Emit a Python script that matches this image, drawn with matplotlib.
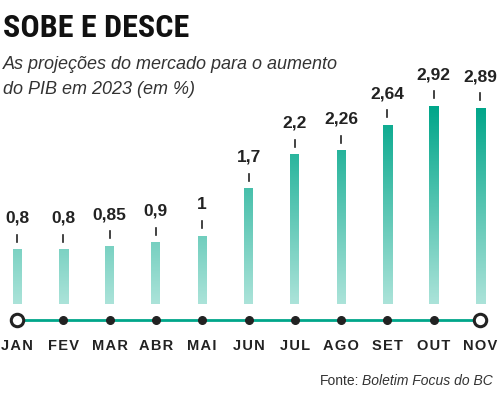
import matplotlib.pyplot as plt
import numpy as np
from matplotlib.colors import LinearSegmentedColormap

months = ['JAN', 'FEV', 'MAR', 'ABR', 'MAI', 'JUN', 'JUL', 'AGO', 'SET', 'OUT', 'NOV']
values = [0.8, 0.8, 0.85, 0.9, 1.0, 1.7, 2.2, 2.26, 2.64, 2.92, 2.89]
labels = ['0,8', '0,8', '0,85', '0,9', '1', '1,7', '2,2', '2,26', '2,64', '2,92', '2,89']

TEAL = '#00a68a'
LIGHT = '#abe3d9'
DARK = '#222222'

W, H = 500, 394
PX = 67.8          # pixels per unit on the y axis
BASE = 90          # baseline, pixels from bottom
STEP = 46.3        # pixels between months
X0 = 17            # pixel of first month

fig = plt.figure(figsize=(5, 3.94), dpi=100)
ax = fig.add_axes([0, 0, 1, 1])
ax.axis('off')

cmap = LinearSegmentedColormap.from_list('g', [LIGHT, TEAL])
top = max(values)
bw = 9 / STEP
x = np.arange(len(months))

# bars with gradient in absolute height
for i, v in enumerate(values):
    grad = np.linspace(0, v, 200).reshape(-1, 1)
    ax.imshow(grad, extent=[i - bw / 2, i + bw / 2, 0, v], origin='lower',
              cmap=cmap, vmin=0, vmax=top, aspect='auto', interpolation='bilinear')
    ax.plot([i, i], [v + 8 / PX, v + 15 / PX], color=DARK, lw=1.2)
    ax.annotate(labels[i], (i, v), xytext=(0, 27), textcoords='offset pixels',
                ha='center', va='baseline', fontsize=12.5, fontweight='bold',
                color=DARK, family=['Liberation Sans', 'DejaVu Sans'])

ax.set_xlim(-X0 / STEP, (W - X0) / STEP)
ax.set_ylim(-BASE / PX, (H - BASE) / PX)

# timeline
ly = -16 / PX
ax.plot(x, [ly] * len(x), color=TEAL, lw=2, zorder=2)
ax.scatter(x[1:-1], [ly] * (len(x) - 2), s=30, color=DARK, zorder=3)
ax.scatter([x[0], x[-1]], [ly, ly], s=80, facecolor='white', edgecolor=DARK,
           linewidth=2.2, zorder=3)

for i, m in enumerate(months):
    ax.text(i, -42 / PX, '\u200a'.join(m), ha='center', va='center', fontsize=10.5,
            fontweight='bold', color=DARK, family=['Liberation Sans', 'DejaVu Sans'])

# titles
fig.text(3 / W, 1 - 37 / H, 'SOBE E DESCE', ha='left', va='baseline', fontsize=23,
         fontweight='bold', color='#111111',
         family=['Roboto Condensed', 'Roboto', 'DejaVu Sans'])
fig.text(3 / W, 1 - 69 / H, 'As projeções do mercado para o aumento', ha='left',
         va='baseline', fontsize=13, style='italic', color='#333333',
         family=['Liberation Sans', 'DejaVu Sans'])
fig.text(3 / W, 1 - 94 / H, 'do PIB em 2023 (em %)', ha='left', va='baseline',
         fontsize=13, style='italic', color='#333333',
         family=['Liberation Sans', 'DejaVu Sans'])

# source, two styles
src = fig.text(493 / W, 1 - 385 / H, 'Boletim Focus do BC', ha='right', va='baseline',
               fontsize=10, style='italic', color='#333333',
               family=['Liberation Sans', 'DejaVu Sans'])
r = fig.canvas.get_renderer()
bb = src.get_window_extent(r)
fig.text(bb.x0 / W - 3 / W, 1 - 385 / H, 'Fonte:', ha='right', va='baseline',
         fontsize=10, color='#333333', family=['Liberation Sans', 'DejaVu Sans'])

fig.savefig('out.png', dpi=100)
